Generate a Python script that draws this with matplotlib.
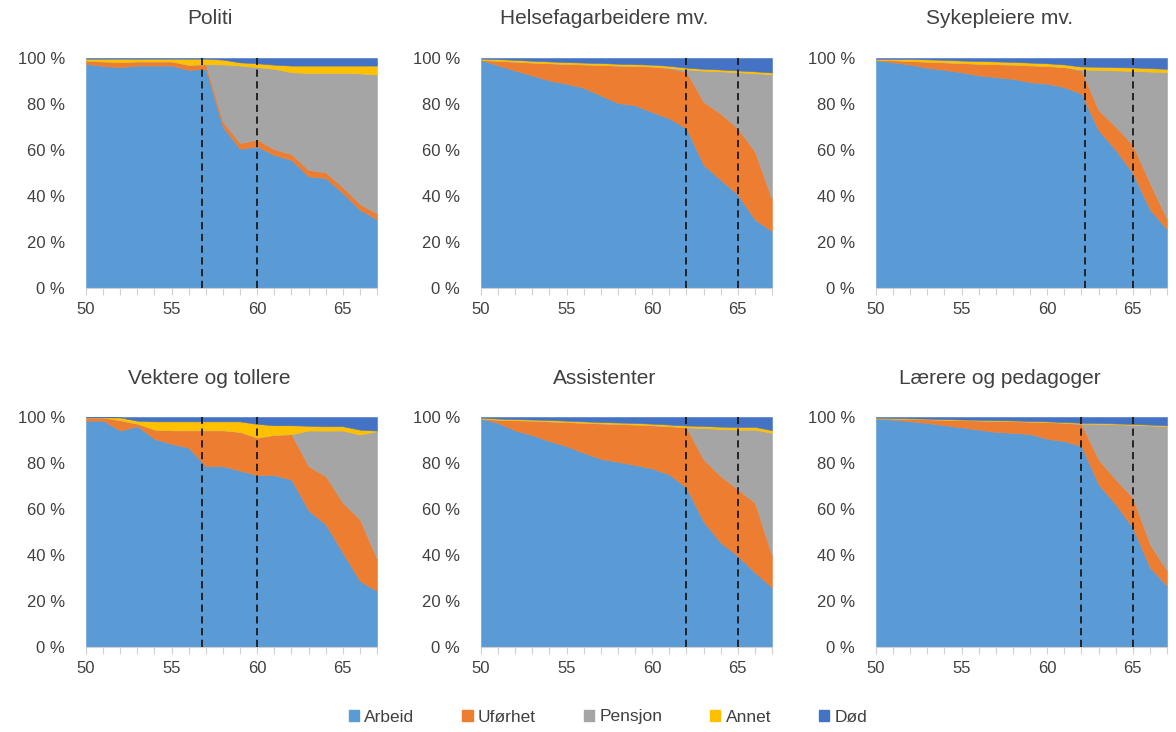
import matplotlib
matplotlib.use("Agg")
import matplotlib.pyplot as plt
from matplotlib.patches import Patch
from matplotlib.ticker import MultipleLocator, FixedLocator

plt.rcParams['font.family'] = ['Liberation Sans', 'DejaVu Sans']

ages = list(range(50, 68))
categories = ["Arbeid", "Uførhet", "Pensjon", "Annet", "Død"]
colors = ["#5B9BD5", "#ED7D31", "#A5A5A5", "#FFC000", "#4472C4"]

titles = ["Politi", "Helsefagarbeidere mv.", "Sykepleiere mv.",
          "Vektere og tollere", "Assistenter", "Lærere og pedagoger"]
yticks = [0, 20, 40, 60, 80, 100]
ytick_labels = ["0 %", "20 %", "40 %", "60 %", "80 %", "100 %"]
xticks = [50, 55, 60, 65]

# vertical dashed reference lines (age)
ref_lines = [[56.8, 60.0], [62.0, 65.0], [62.2, 65.0],
             [56.8, 60.0], [62.0, 65.0], [62.0, 65.0]]

# --- Politi ---
politi_arbeid = [97.4, 96.5, 96.0, 96.7, 96.7, 96.7, 94.8, 95.3, 70.0, 60.5, 61.5, 57.8, 55.7, 48.5, 47.8, 41.3, 34.0, 29.8]
politi_ufor = [1.5, 2.0, 2.2, 1.8, 1.8, 1.8, 2.2, 2.0, 2.2, 2.5, 3.0, 2.5, 2.5, 2.8, 2.5, 2.5, 2.5, 2.5]
politi_pensjon = [0, 0, 0, 0, 0, 0, 0, 0, 25.0, 33.7, 31.5, 35.0, 35.6, 42.2, 43.2, 49.7, 56.8, 60.5]
politi_annet = [0.8, 1.2, 1.5, 1.2, 1.2, 1.2, 2.7, 2.4, 2.1, 1.4, 1.7, 1.8, 2.9, 3.2, 3.2, 3.2, 3.4, 3.9]
politi_dod = [0.3, 0.3, 0.3, 0.3, 0.3, 0.3, 0.3, 0.3, 0.7, 1.9, 2.3, 2.9, 3.3, 3.3, 3.3, 3.3, 3.3, 3.3]

# --- Helsefagarbeidere mv. ---
helse_arbeid = [99.1, 96.8, 94.5, 92.4, 90.2, 88.8, 87.0, 83.7, 80.4, 79.4, 76.5, 73.7, 69.4, 53.5, 47.0, 40.6, 29.8, 24.7]
helse_ufor = [0.0, 2.0, 3.9, 5.6, 7.5, 8.6, 10.2, 13.3, 16.3, 17.1, 19.8, 21.8, 24.6, 27.4, 28.8, 28.8, 29.5, 13.7]
helse_pensjon = [0, 0, 0, 0, 0, 0, 0, 0, 0, 0, 0, 0.3, 1.0, 13.6, 18.4, 24.4, 34.1, 54.5]
helse_annet = [0.6, 0.7, 0.8, 0.8, 0.8, 0.8, 0.8, 0.8, 0.8, 0.8, 0.8, 0.8, 0.8, 0.8, 0.8, 0.8, 0.8, 0.8]
helse_dod = [0.3, 0.5, 0.8, 1.2, 1.5, 1.8, 2.0, 2.2, 2.5, 2.7, 2.9, 3.4, 4.2, 4.7, 5.0, 5.4, 5.8, 6.3]

# --- Sykepleiere mv. ---
syk_arbeid = [99.1, 98.1, 97.1, 95.7, 94.8, 93.8, 92.4, 91.7, 90.9, 89.5, 88.8, 87.3, 84.5, 68.6, 60.0, 50.0, 34.2, 25.5]
syk_ufor = [0.0, 0.9, 1.6, 2.7, 3.3, 4.0, 5.1, 5.6, 6.2, 7.3, 7.7, 8.7, 10.0, 8.7, 10.1, 12.2, 11.4, 4.3]
syk_pensjon = [0, 0, 0, 0, 0, 0, 0, 0, 0, 0, 0, 0, 0.5, 17.5, 24.5, 32.2, 48.5, 64.0]
syk_annet = [0.5, 0.6, 0.9, 1.0, 1.1, 1.1, 1.2, 1.2, 1.2, 1.2, 1.2, 1.2, 1.3, 1.4, 1.4, 1.5, 1.5, 1.5]
syk_dod = [0.4, 0.4, 0.4, 0.6, 0.8, 1.1, 1.3, 1.5, 1.7, 2.0, 2.3, 2.8, 3.7, 3.8, 4.0, 4.1, 4.4, 4.7]

# --- Vektere og tollere ---
vekt_arbeid = [98.4, 98.4, 94.1, 96.0, 90.5, 88.3, 86.6, 78.6, 78.6, 76.7, 74.7, 74.7, 72.8, 59.4, 53.3, 41.0, 28.7, 24.4]
vekt_ufor = [1.4, 1.4, 4.5, 1.1, 4.0, 5.9, 7.6, 15.6, 15.6, 16.8, 16.3, 17.5, 19.7, 19.2, 21.0, 21.7, 26.8, 13.8]
vekt_pensjon = [0, 0, 0, 0, 0, 0, 0, 0, 0, 0, 0, 0, 0, 15.5, 19.8, 31.4, 36.9, 55.6]
vekt_annet = [0.1, 0.1, 1.2, 1.3, 3.6, 3.9, 3.9, 3.9, 3.9, 4.6, 6.0, 4.2, 3.9, 2.1, 1.9, 1.9, 2.1, 0.3]
vekt_dod = [0.1, 0.1, 0.2, 1.6, 1.9, 1.9, 1.9, 1.9, 1.9, 1.9, 3.0, 3.6, 3.6, 3.8, 4.0, 4.0, 5.5, 5.9]

# --- Assistenter ---
ass_arbeid = [99.3, 97.4, 94.1, 92.1, 89.5, 87.3, 84.4, 81.8, 80.5, 79.1, 77.6, 75.0, 69.2, 54.5, 45.4, 39.6, 32.4, 25.9]
ass_ufor = [0.0, 1.4, 4.5, 6.3, 8.6, 10.5, 13.1, 15.4, 16.5, 17.6, 18.8, 21.0, 26.3, 27.0, 28.9, 28.9, 30.3, 13.7]
ass_pensjon = [0, 0, 0, 0, 0, 0, 0, 0, 0, 0, 0, 0, 0, 13.7, 20.5, 26.0, 31.8, 53.5]
ass_annet = [0.4, 0.5, 0.5, 0.5, 0.6, 0.6, 0.6, 0.6, 0.6, 0.7, 0.7, 0.7, 0.8, 0.9, 1.0, 1.2, 1.2, 1.2]
ass_dod = [0.3, 0.7, 0.9, 1.1, 1.3, 1.6, 1.9, 2.2, 2.4, 2.6, 2.9, 3.3, 3.7, 3.9, 4.2, 4.3, 4.3, 5.7]

# --- Lærere og pedagoger ---
laer_arbeid = [99.3, 98.8, 98.1, 97.4, 96.4, 95.5, 94.5, 93.5, 93.1, 92.6, 90.5, 89.5, 87.3, 70.7, 62.0, 51.9, 34.6, 26.6]
laer_ufor = [0.1, 0.5, 1.0, 1.6, 2.4, 3.1, 4.0, 4.8, 5.1, 5.4, 7.3, 8.0, 9.5, 10.8, 10.8, 13.0, 10.1, 6.5]
laer_pensjon = [0, 0, 0, 0, 0, 0, 0, 0, 0, 0, 0, 0, 0.3, 15.5, 24.0, 31.7, 51.6, 62.9]
laer_annet = [0.3, 0.3, 0.3, 0.3, 0.3, 0.3, 0.3, 0.3, 0.3, 0.3, 0.3, 0.3, 0.4, 0.4, 0.4, 0.4, 0.4, 0.4]
laer_dod = [0.3, 0.4, 0.6, 0.7, 0.9, 1.1, 1.2, 1.4, 1.5, 1.7, 1.9, 2.2, 2.5, 2.6, 2.8, 3.0, 3.3, 3.6]

panels = [
    [politi_arbeid, politi_ufor, politi_pensjon, politi_annet, politi_dod],
    [helse_arbeid, helse_ufor, helse_pensjon, helse_annet, helse_dod],
    [syk_arbeid, syk_ufor, syk_pensjon, syk_annet, syk_dod],
    [vekt_arbeid, vekt_ufor, vekt_pensjon, vekt_annet, vekt_dod],
    [ass_arbeid, ass_ufor, ass_pensjon, ass_annet, ass_dod],
    [laer_arbeid, laer_ufor, laer_pensjon, laer_annet, laer_dod],
]

W, H = 1176, 732
fig = plt.figure(figsize=(W / 100, H / 100), dpi=100)

lefts = [86, 481, 876]
row_tops = [58, 417]
ax_w, ax_h = 291, 230
title_y = [18, 378]
text_col = "#404040"

for i, (series, title, refs) in enumerate(zip(panels, titles, ref_lines)):
    r, c = divmod(i, 3)
    left, top = lefts[c], row_tops[r]
    ax = fig.add_axes([left / W, 1 - (top + ax_h) / H, ax_w / W, ax_h / H])
    polys = ax.stackplot(ages, *series, colors=colors, linewidth=0)
    for p, col in zip(polys, colors):
        p.set_edgecolor(col)
        p.set_linewidth(0.4)
    for xv in refs:
        ax.plot([xv, xv], [0, 100], color="#1a1a1a", lw=1.3,
                linestyle=(0, (4, 2.5)), zorder=5)
    ax.set_xlim(50, 67)
    ax.set_ylim(0, 100)
    ax.set_yticks(yticks)
    ax.set_yticklabels(ytick_labels)
    ax.xaxis.set_major_locator(FixedLocator(xticks))
    ax.xaxis.set_minor_locator(MultipleLocator(1))
    ax.tick_params(axis='y', length=0, pad=15, labelsize=12, labelcolor=text_col)
    ax.tick_params(axis='x', which='major', length=5, width=0.8, color="#D0D0D0",
                   pad=5, labelsize=12, labelcolor=text_col)
    ax.tick_params(axis='x', which='minor', length=5, width=0.8, color="#D0D0D0")
    for s in ["top", "right", "left"]:
        ax.spines[s].set_visible(False)
    ax.spines["bottom"].set_color("#D0D0D0")
    ax.spines["bottom"].set_linewidth(0.8)
    fig.text((left + ax_w / 2 - 22) / W, 1 - title_y[r] / H, title,
             ha="center", va="center", fontsize=15, color=text_col)

handles = [Patch(facecolor=col, edgecolor=col) for col in colors]
fig.legend(handles, categories, loc="center", bbox_to_anchor=(0.517, 1 - 717 / H),
           ncol=5, frameon=False, fontsize=12.5, handlelength=0.6, handleheight=0.6,
           handletextpad=0.3, columnspacing=2.75, labelcolor=text_col)

fig.savefig("out.png", dpi=100)
